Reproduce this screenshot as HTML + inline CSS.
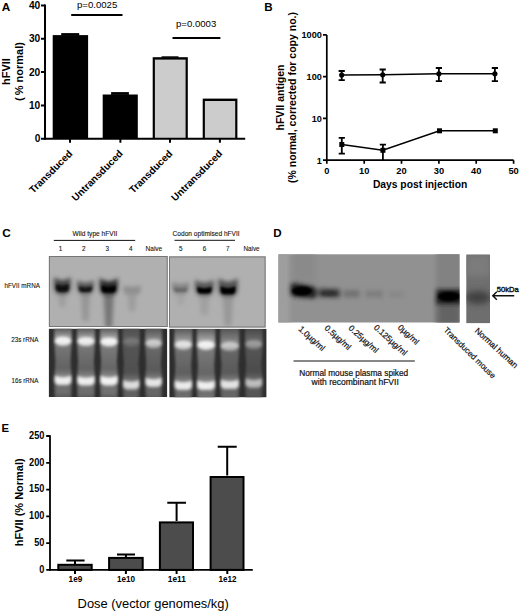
<!DOCTYPE html>
<html><head><meta charset="utf-8">
<style>
html,body{margin:0;padding:0;background:#fff;}
body{width:520px;height:614px;overflow:hidden;}
svg{display:block;}
text{font-family:"Liberation Sans",sans-serif;}
.b{font-weight:bold;}
</style></head>
<body>
<svg width="520" height="614" viewBox="0 0 520 614">
<rect width="520" height="614" fill="#fff"/>

<!-- ============ PANEL A ============ -->
<g id="A">
<text class="b" x="1.7" y="10.6" font-size="11.8">A</text>
<!-- bars -->
<rect x="52.7" y="35.1" width="35.4" height="103.6" fill="#000"/>
<rect x="61.2" y="33.1" width="18" height="2.5" fill="#000"/>
<rect x="102.7" y="94.5" width="35.1" height="44.2" fill="#000"/>
<rect x="111.1" y="92.1" width="17.8" height="2.8" fill="#000"/>
<rect x="152.7" y="57.2" width="35.1" height="81.5" fill="#000"/>
<rect x="154.9" y="59.6" width="30.7" height="79.1" fill="#cccccc"/>
<rect x="161.6" y="56.3" width="16.9" height="1.5" fill="#000"/>
<rect x="202.7" y="98.6" width="34.7" height="40.1" fill="#000"/>
<rect x="204.9" y="101" width="30.3" height="37.7" fill="#cccccc"/>
<!-- axes -->
<g stroke="#000" stroke-width="2" fill="none">
<path d="M45,4.4V139.7"/>
<path d="M44,138.7H245.2"/>
<path d="M41,5.4H45M41,38.7H45M41,72H45M41,105.4H45M41,138.7H45"/>
<path d="M70,138.7V142.8M120.4,138.7V142.8M170,138.7V142.8M219.9,138.7V142.8"/>
<!-- significance -->
<path d="M71.2,15H122.5M172.5,38.1H220.4"/>
</g>
<g class="b" font-size="10.2" text-anchor="end">
<text x="40.3" y="9.1">40</text>
<text x="40.3" y="42.4">30</text>
<text x="40.3" y="75.7">20</text>
<text x="40.3" y="109.1">10</text>
<text x="40.3" y="142.4">0</text>
</g>
<text x="77" y="8.3" font-size="9.6">p=0.0025</text>
<text x="176" y="26.6" font-size="9.6">p=0.0003</text>
<g class="b" font-size="11" text-anchor="middle">
<text transform="translate(10.2,71.6) rotate(-90)">hFVII</text>
<text transform="translate(22.6,71.6) rotate(-90)">(&#8201;% normal)</text>
</g>
<g class="b" font-size="10" text-anchor="end">
<text transform="translate(73,154.3) rotate(-45)">Transduced</text>
<text transform="translate(123.4,154.3) rotate(-45)">Untransduced</text>
<text transform="translate(173,154.3) rotate(-45)">Transduced</text>
<text transform="translate(222.9,154.3) rotate(-45)">Untransduced</text>
</g>
</g>

<!-- ============ PANEL B ============ -->
<g id="B">
<text class="b" x="264.2" y="11" font-size="11.6">B</text>
<g stroke="#000" stroke-width="1.7" fill="none">
<path d="M326.8,34.9V160.2H513.6"/>
<path d="M323,34.9H326.8M323,76.7H326.8M323,118.4H326.8M323,160.2H326.8"/>
<path d="M326.8,160.2V163.8M364.2,160.2V163.8M401.5,160.2V163.8M438.9,160.2V163.8M476.2,160.2V163.8M513.6,160.2V163.8"/>
</g>
<g class="b" font-size="9.1" text-anchor="end">
<text x="321.8" y="38.2">1000</text>
<text x="321.8" y="80">100</text>
<text x="321.8" y="121.7">10</text>
<text x="321.8" y="163.5">1</text>
</g>
<g class="b" font-size="9.3" text-anchor="middle">
<text x="326.8" y="173.9">0</text>
<text x="364.2" y="173.9">10</text>
<text x="401.5" y="173.9">20</text>
<text x="438.9" y="173.9">30</text>
<text x="476.2" y="173.9">40</text>
<text x="513.6" y="173.9">50</text>
</g>
<text class="b" x="420.1" y="187.7" font-size="10.3" text-anchor="middle">Days post injection</text>
<g class="b" font-size="10.5" text-anchor="middle">
<text transform="translate(283.5,97.5) rotate(-90)">hFVII antigen</text>
<text transform="translate(295.7,97.5) rotate(-90)">(% normal, corrected for copy no.)</text>
</g>
<!-- series 1 -->
<g stroke="#000" stroke-width="1.6" fill="none">
<path d="M341.7,75L382.7,74.8L438.9,73.8L494.9,73.8"/>
<path d="M341.8,144.5L382.8,150.3L439.5,130.8L495.3,130.8"/>
</g>
<g stroke="#000" stroke-width="1.8" fill="none">
<path d="M341.7,71V80.2M338.6,71H344.8M338.6,80.2H344.8"/>
<path d="M382.7,69.5V82.5M379.6,69.5H385.8M379.6,82.5H385.8"/>
<path d="M438.9,68V81.2M435.8,68H442M435.8,81.2H442"/>
<path d="M494.9,68V81.2M491.8,68H498M491.8,81.2H498"/>
<path d="M341.8,137.9V153.6M338.7,137.9H344.9M338.7,153.6H344.9"/>
<path d="M382.9,144.6V160M379.8,144.6H386"/>
</g>
<g fill="#000">
<circle cx="341.7" cy="75" r="2.6"/>
<circle cx="382.7" cy="74.8" r="2.6"/>
<circle cx="438.9" cy="73.8" r="2.6"/>
<circle cx="494.9" cy="73.8" r="2.6"/>
<rect x="339.3" y="142" width="5" height="5"/>
<rect x="380.4" y="147.8" width="5" height="5"/>
<rect x="437" y="128.3" width="5" height="5"/>
<rect x="492.8" y="128.3" width="5" height="5"/>
</g>
</g>



<!-- ============ PANEL C ============ -->
<defs>
<filter id="b06" x="-50%" y="-50%" width="200%" height="200%"><feGaussianBlur stdDeviation="0.6"/></filter>
<filter id="b1" x="-50%" y="-50%" width="200%" height="200%"><feGaussianBlur stdDeviation="1"/></filter>
<filter id="b12" x="-50%" y="-50%" width="200%" height="200%"><feGaussianBlur stdDeviation="1.25"/></filter>
<filter id="b15" x="-50%" y="-50%" width="200%" height="200%"><feGaussianBlur stdDeviation="1.5"/></filter>
<filter id="b2" x="-50%" y="-50%" width="200%" height="200%"><feGaussianBlur stdDeviation="2"/></filter>
<filter id="b25" x="-50%" y="-50%" width="200%" height="200%"><feGaussianBlur stdDeviation="2.5"/></filter>
<filter id="b3" x="-50%" y="-50%" width="200%" height="200%"><feGaussianBlur stdDeviation="3"/></filter>
<linearGradient id="gUp" x1="0" y1="0" x2="0" y2="1"><stop offset="0" stop-color="#fff" stop-opacity="0"/><stop offset="1" stop-color="#fff" stop-opacity="1"/></linearGradient>
<linearGradient id="gDn" x1="0" y1="0" x2="0" y2="1"><stop offset="0" stop-color="#fff" stop-opacity="1"/><stop offset="1" stop-color="#fff" stop-opacity="0"/></linearGradient>
<clipPath id="cTL"><rect x="48.9" y="256" width="118.8" height="71"/></clipPath>
<clipPath id="cTR"><rect x="169" y="256.4" width="96.6" height="71.1"/></clipPath>
<clipPath id="cBL"><rect x="48.9" y="328.8" width="118.2" height="68.2"/></clipPath>
<clipPath id="cBR"><rect x="169.4" y="328.9" width="97" height="68.3"/></clipPath>
<clipPath id="cD1"><rect x="278.4" y="254.3" width="181.1" height="68.2"/></clipPath>
<clipPath id="cD2"><rect x="466.3" y="254.6" width="23.7" height="68.5"/></clipPath>
</defs>
<g id="C">
<text class="b" x="2.2" y="237.3" font-size="11.8">C</text>
<g font-size="6.6" fill="#111" stroke="#111" stroke-width="0.1">
<text x="72.6" y="235.6">Wild type hFVII</text>
<text x="172.6" y="235.6">Codon optimised hFVII</text>
<text x="4.5" y="287.6" textLength="35.4" lengthAdjust="spacingAndGlyphs">hFVII mRNA</text>
<text x="11.3" y="342.4" textLength="27.1" lengthAdjust="spacingAndGlyphs">23s rRNA</text>
<text x="11.6" y="382.9" textLength="26.8" lengthAdjust="spacingAndGlyphs">16s rRNA</text>
</g>
<g font-size="6.3" fill="#111" text-anchor="middle" stroke="#111" stroke-width="0.1">
<text x="60.6" y="251">1</text>
<text x="83.8" y="251">2</text>
<text x="107.2" y="251">3</text>
<text x="130.8" y="251">4</text>
<text x="153.9" y="251.1" font-size="7" textLength="16.6" lengthAdjust="spacingAndGlyphs">Naive</text>
<text x="180.7" y="251">5</text>
<text x="204.4" y="251">6</text>
<text x="227.7" y="251">7</text>
<text x="251.5" y="251.1" font-size="7" textLength="16.2" lengthAdjust="spacingAndGlyphs">Naive</text>
</g>
<path d="M53.8,240.4H135.2M174.5,240.3H235" stroke="#111" stroke-width="1"/>

<rect x="48.9" y="256.0" width="118.8" height="71.0" fill="#b0b0b0"/>
<g clip-path="url(#cTL)">
<g filter="url(#b2)">
<path d="M57.8,291.0 L67.0,291.0 L65.3,307.0 L59.5,307.0 Z" fill="#9e9e9e"/>
<path d="M80.7,291.0 L90.3,291.0 L88.5,321.0 L82.5,321.0 Z" fill="#969696"/>
<path d="M103.4,292.0 L114.0,292.0 L112.0,328.0 L105.4,328.0 Z" fill="#767676"/>
<path d="M127.0,291.5 L137.0,291.5 L135.1,311.5 L128.9,311.5 Z" fill="#9e9e9e"/>
</g>
<g filter="url(#b2)">
<path d="M54.3,277.3 Q62.4,283.7 70.5,277.3 L70.5,287.4 Q70.5,293.8 64.0,293.8 L60.8,293.8 Q54.3,293.8 54.3,287.4 Z" fill="#3c3c3c"/>
<path d="M77.2,280.3 Q85.5,285.4 93.8,280.3 L93.8,287.2 Q93.8,293.8 87.2,293.8 L83.8,293.8 Q77.2,293.8 77.2,287.2 Z" fill="#555555"/>
<path d="M99.7,278.3 Q108.7,284.7 117.8,278.3 L117.8,287.6 Q117.8,294.8 110.5,294.8 L106.9,294.8 Q99.7,294.8 99.7,287.6 Z" fill="#282828"/>
<path d="M123.5,285.3 Q132.0,288.4 140.6,285.3 L140.6,289.8 Q140.6,294.3 136.1,294.3 L128.0,294.3 Q123.5,294.3 123.5,289.8 Z" fill="#8e8e8e"/>
</g>
<g filter="url(#b12)">
<path d="M56.3,284.6 Q62.4,287.5 68.5,284.6 L68.5,288.1 Q68.5,291.6 65.0,291.6 L59.8,291.6 Q56.3,291.6 56.3,288.1 Z" fill="#080808"/>
<path d="M79.2,286.3 Q85.5,288.6 91.8,286.3 L91.8,289.1 Q91.8,291.9 89.0,291.9 L82.0,291.9 Q79.2,291.9 79.2,289.1 Z" fill="#141414"/>
<path d="M101.8,285.6 Q108.7,288.5 115.6,285.6 L115.6,289.1 Q115.6,292.6 112.1,292.6 L105.3,292.6 Q101.8,292.6 101.8,289.1 Z" fill="#000000"/>
</g>
</g>
<rect x="49.4" y="256.5" width="117.8" height="70.0" fill="none" stroke="#777" stroke-width="1"/>
<rect x="169.0" y="256.4" width="96.6" height="71.1" fill="#b0b0b0"/>
<g clip-path="url(#cTR)">
<g filter="url(#b2)">
<path d="M175.8,291.0 L185.4,291.0 L183.6,305.0 L177.6,305.0 Z" fill="#a5a5a5"/>
<path d="M199.0,292.8 L209.8,292.8 L207.8,314.8 L201.0,314.8 Z" fill="#a0a0a0"/>
<path d="M222.4,293.8 L233.6,293.8 L231.5,325.8 L224.5,325.8 Z" fill="#989898"/>
</g>
<g filter="url(#b2)">
<path d="M172.3,281.8 Q180.6,286.2 188.9,281.8 L188.9,287.8 Q188.9,293.8 182.9,293.8 L178.3,293.8 Q172.3,293.8 172.3,287.8 Z" fill="#848484"/>
<path d="M195.1,279.8 Q204.4,285.9 213.7,279.8 L213.7,288.2 Q213.7,295.6 206.3,295.6 L202.5,295.6 Q195.1,295.6 195.1,288.2 Z" fill="#555555"/>
<path d="M218.4,278.3 Q228.0,285.5 237.6,278.3 L237.6,289.0 Q237.6,296.6 229.9,296.6 L226.1,296.6 Q218.4,296.6 218.4,289.0 Z" fill="#505050"/>
</g>
<g filter="url(#b12)">
<path d="M174.3,287.2 Q180.6,289.2 186.9,287.2 L186.9,289.6 Q186.9,292.0 184.5,292.0 L176.7,292.0 Q174.3,292.0 174.3,289.6 Z" fill="#696969"/>
<path d="M197.3,286.8 Q204.4,289.6 211.5,286.8 L211.5,290.1 Q211.5,293.4 208.2,293.4 L200.6,293.4 Q197.3,293.4 197.3,290.1 Z" fill="#050505"/>
<path d="M220.7,286.3 Q228.0,289.6 235.3,286.3 L235.3,290.3 Q235.3,294.2 231.4,294.2 L224.6,294.2 Q220.7,294.2 220.7,290.3 Z" fill="#050505"/>
</g>
</g>
<rect x="169.5" y="256.9" width="95.6" height="70.1" fill="none" stroke="#777" stroke-width="1"/>
<rect x="48.9" y="328.8" width="118.2" height="68.2" fill="#2e2e2e"/>
<g clip-path="url(#cBL)">
<g filter="url(#b1)">
<path d="M54.2,326.8 L54.0,342.2 L55.5,360.4 L54.0,382.5 L54.8,400.0 L71.2,400.0 L72.0,382.5 L70.5,360.4 L72.0,342.2 L71.8,326.8 Z" fill="#5c5c5c"/>
<path d="M77.0,326.8 L76.7,342.5 L78.2,360.8 L76.7,383.0 L77.5,400.0 L94.5,400.0 L95.3,383.0 L93.8,360.8 L95.3,342.5 L95.0,326.8 Z" fill="#5c5c5c"/>
<path d="M100.0,326.8 L99.7,343.0 L101.2,360.9 L99.7,382.8 L100.5,400.0 L117.5,400.0 L118.3,382.8 L116.8,360.9 L118.3,343.0 L118.0,326.8 Z" fill="#5f5f5f"/>
<path d="M122.7,326.8 L122.4,343.0 L123.9,363.0 L122.4,387.0 L123.2,400.0 L139.2,400.0 L140.0,387.0 L138.5,363.0 L140.0,343.0 L139.7,326.8 Z" fill="#505050"/>
<path d="M145.1,326.8 L144.8,344.5 L146.3,362.5 L144.8,384.5 L145.6,400.0 L161.6,400.0 L162.4,384.5 L160.9,362.5 L162.4,344.5 L162.1,326.8 Z" fill="#555555"/>
</g>
<g filter="url(#b15)">
<rect x="54.8" y="328.8" width="16.5" height="13.4" fill="url(#gUp)" opacity="0.68"/>
<ellipse cx="63.0" cy="341.2" rx="8.4" ry="4.6" fill="#fff" opacity="0.82"/>
<rect x="54.8" y="368.5" width="16.5" height="14.0" fill="url(#gUp)" opacity="0.47"/>
<path d="M54.6,375.5 Q63.0,379.1 71.3,375.5 L71.3,380.3 Q71.3,385.1 66.5,385.1 L59.5,385.1 Q54.6,385.1 54.6,380.3 Z" fill="#fff" opacity="0.84"/>
<rect x="55.2" y="343.2" width="15.5" height="32.2" fill="url(#gDn)" opacity="0.18"/>
<rect x="56.2" y="384.5" width="13.5" height="10.0" fill="#fff" opacity="0.11"/>
<rect x="77.5" y="328.8" width="17.0" height="13.7" fill="url(#gUp)" opacity="0.66"/>
<ellipse cx="86.0" cy="341.5" rx="8.7" ry="4.6" fill="#fff" opacity="0.79"/>
<rect x="77.5" y="369.0" width="17.0" height="14.0" fill="url(#gUp)" opacity="0.47"/>
<path d="M77.4,376.0 Q86.0,379.6 94.6,376.0 L94.6,380.8 Q94.6,385.6 89.8,385.6 L82.2,385.6 Q77.4,385.6 77.4,380.8 Z" fill="#fff" opacity="0.84"/>
<rect x="78.0" y="343.5" width="16.0" height="32.4" fill="url(#gDn)" opacity="0.18"/>
<rect x="79.0" y="385.0" width="14.0" height="10.0" fill="#fff" opacity="0.11"/>
<rect x="100.5" y="328.8" width="17.0" height="14.2" fill="url(#gUp)" opacity="0.70"/>
<ellipse cx="109.0" cy="342.0" rx="8.7" ry="4.6" fill="#fff" opacity="0.84"/>
<rect x="100.5" y="368.8" width="17.0" height="14.0" fill="url(#gUp)" opacity="0.48"/>
<path d="M100.4,375.8 Q109.0,379.4 117.6,375.8 L117.6,380.6 Q117.6,385.4 112.8,385.4 L105.2,385.4 Q100.4,385.4 100.4,380.6 Z" fill="#fff" opacity="0.87"/>
<rect x="101.0" y="344.0" width="16.0" height="31.8" fill="url(#gDn)" opacity="0.19"/>
<rect x="102.0" y="384.8" width="14.0" height="10.0" fill="#fff" opacity="0.12"/>
<rect x="123.2" y="328.8" width="16.0" height="14.2" fill="url(#gUp)" opacity="0.12"/>
<ellipse cx="131.2" cy="342.0" rx="8.2" ry="4.6" fill="#fff" opacity="0.14"/>
<rect x="123.2" y="373.0" width="16.0" height="14.0" fill="url(#gUp)" opacity="0.40"/>
<path d="M123.1,380.0 Q131.2,383.6 139.3,380.0 L139.3,384.8 Q139.3,389.6 134.5,389.6 L127.9,389.6 Q123.1,389.6 123.1,384.8 Z" fill="#fff" opacity="0.72"/>
<rect x="123.7" y="344.0" width="15.0" height="35.2" fill="url(#gDn)" opacity="0.03"/>
<rect x="124.7" y="389.0" width="13.0" height="10.0" fill="#fff" opacity="0.10"/>
<rect x="145.6" y="328.8" width="16.0" height="15.7" fill="url(#gUp)" opacity="0.44"/>
<ellipse cx="153.6" cy="343.5" rx="8.2" ry="4.6" fill="#fff" opacity="0.53"/>
<rect x="145.6" y="370.5" width="16.0" height="14.0" fill="url(#gUp)" opacity="0.43"/>
<path d="M145.5,377.5 Q153.6,381.1 161.7,377.5 L161.7,382.3 Q161.7,387.1 156.9,387.1 L150.3,387.1 Q145.5,387.1 145.5,382.3 Z" fill="#fff" opacity="0.78"/>
<rect x="146.1" y="345.5" width="15.0" height="32.0" fill="url(#gDn)" opacity="0.12"/>
<rect x="147.1" y="386.5" width="13.0" height="10.0" fill="#fff" opacity="0.10"/>
</g>
</g>
<rect x="169.4" y="328.9" width="97.0" height="68.3" fill="#2e2e2e"/>
<g clip-path="url(#cBR)">
<g filter="url(#b1)">
<path d="M174.3,326.9 L174.0,346.0 L175.5,364.8 L174.0,387.5 L174.8,400.2 L191.8,400.2 L192.6,387.5 L191.1,364.8 L192.6,346.0 L192.3,326.9 Z" fill="#5a5a5a"/>
<path d="M196.8,326.9 L196.5,346.3 L198.0,364.9 L196.5,387.5 L197.3,400.2 L214.8,400.2 L215.7,387.5 L214.2,364.9 L215.7,346.3 L215.3,326.9 Z" fill="#5e5e5e"/>
<path d="M220.3,326.9 L220.0,347.2 L221.5,364.9 L220.0,386.5 L220.8,400.2 L238.8,400.2 L239.6,386.5 L238.1,364.9 L239.6,347.2 L239.3,326.9 Z" fill="#555555"/>
<path d="M245.1,326.9 L244.8,345.5 L246.2,363.4 L244.8,385.3 L245.6,400.2 L262.1,400.2 L262.9,385.3 L261.4,363.4 L262.9,345.5 L262.6,326.9 Z" fill="#484848"/>
</g>
<g filter="url(#b15)">
<rect x="174.8" y="328.9" width="17.0" height="17.1" fill="url(#gUp)" opacity="0.57"/>
<ellipse cx="183.3" cy="345.0" rx="8.7" ry="4.6" fill="#fff" opacity="0.68"/>
<rect x="174.8" y="373.5" width="17.0" height="14.0" fill="url(#gUp)" opacity="0.45"/>
<path d="M174.7,380.5 Q183.3,384.1 191.9,380.5 L191.9,385.3 Q191.9,390.1 187.1,390.1 L179.5,390.1 Q174.7,390.1 174.7,385.3 Z" fill="#fff" opacity="0.82"/>
<rect x="175.3" y="347.0" width="16.0" height="33.2" fill="url(#gDn)" opacity="0.15"/>
<rect x="176.3" y="389.5" width="14.0" height="10.0" fill="#fff" opacity="0.11"/>
<rect x="197.3" y="328.9" width="17.5" height="17.4" fill="url(#gUp)" opacity="0.68"/>
<ellipse cx="206.1" cy="345.3" rx="8.9" ry="4.6" fill="#fff" opacity="0.82"/>
<rect x="197.3" y="373.5" width="17.5" height="14.0" fill="url(#gUp)" opacity="0.47"/>
<path d="M197.2,380.5 Q206.1,384.1 214.9,380.5 L214.9,385.3 Q214.9,390.1 210.1,390.1 L202.1,390.1 Q197.2,390.1 197.2,385.3 Z" fill="#fff" opacity="0.84"/>
<rect x="197.8" y="347.3" width="16.5" height="33.0" fill="url(#gDn)" opacity="0.18"/>
<rect x="198.8" y="389.5" width="14.5" height="10.0" fill="#fff" opacity="0.11"/>
<rect x="220.8" y="328.9" width="18.0" height="18.3" fill="url(#gUp)" opacity="0.42"/>
<ellipse cx="229.8" cy="346.2" rx="9.2" ry="4.6" fill="#fff" opacity="0.50"/>
<rect x="220.8" y="372.5" width="18.0" height="14.0" fill="url(#gUp)" opacity="0.42"/>
<path d="M220.7,379.5 Q229.8,383.1 238.9,379.5 L238.9,384.3 Q238.9,389.1 234.1,389.1 L225.5,389.1 Q220.7,389.1 220.7,384.3 Z" fill="#fff" opacity="0.76"/>
<rect x="221.3" y="348.2" width="17.0" height="31.4" fill="url(#gDn)" opacity="0.11"/>
<rect x="222.3" y="388.5" width="15.0" height="10.0" fill="#fff" opacity="0.10"/>
<rect x="245.6" y="328.9" width="16.5" height="16.6" fill="url(#gUp)" opacity="0.26"/>
<ellipse cx="253.8" cy="344.5" rx="8.4" ry="4.6" fill="#fff" opacity="0.31"/>
<rect x="245.6" y="371.3" width="16.5" height="14.0" fill="url(#gUp)" opacity="0.30"/>
<path d="M245.5,378.3 Q253.8,381.9 262.2,378.3 L262.2,383.1 Q262.2,387.9 257.4,387.9 L250.3,387.9 Q245.5,387.9 245.5,383.1 Z" fill="#fff" opacity="0.53"/>
<rect x="246.1" y="346.5" width="15.5" height="31.8" fill="url(#gDn)" opacity="0.07"/>
<rect x="247.1" y="387.3" width="13.5" height="10.0" fill="#fff" opacity="0.07"/>
</g>
</g>
</g>

<!-- ============ PANEL D ============ -->
<g id="D">
<text class="b" x="273.2" y="237.2" font-size="11.6">D</text>
<rect x="278.4" y="254.3" width="181.1" height="68.2" fill="#919191"/>
<g clip-path="url(#cD1)">
 <rect x="276" y="252" width="14" height="74" fill="#9e9e9e" filter="url(#b2)"/>
 <rect x="292" y="252" width="24" height="31" fill="#8a8a8a" filter="url(#b3)"/>
 <rect x="436" y="250" width="26" height="76" fill="#828282" filter="url(#b2)"/>
 <rect x="437" y="296" width="24" height="30" fill="#646464" filter="url(#b3)"/>
 <g filter="url(#b2)">
  <path d="M290.5,286.5 Q290.5,282.5 295,283 L312,286 Q316.5,287 316.5,291 L316.5,295 Q316.5,299 312,298.5 L295,297 Q290.5,296.5 290.5,293 Z" fill="#242424"/>
  <path d="M317.5,290.5 Q317.5,288 321,288 L337,288.5 Q340.5,288.5 340.5,291.5 L340.5,295 Q340.5,298 337,298 L321,297.5 Q317.5,297.5 317.5,295 Z" fill="#4c4c4c"/>
  <path d="M343.5,290 L359.5,290 L359.5,297.5 L343.5,297.5 Z" fill="#727272"/>
  <path d="M365.5,290.5 L383,290.5 L383,297.5 L365.5,297.5 Z" fill="#7e7e7e"/>
  <path d="M389,291 L404,291 L404,297.5 L389,297.5 Z" fill="#888"/>
  <path d="M436.5,289.5 L462,289.5 L462,304 L436.5,304 Z" fill="#1c1c1c"/>
 </g>
 <g filter="url(#b12)">
  <ellipse cx="302" cy="291" rx="10" ry="4.6" fill="#000"/>
  <ellipse cx="329" cy="293.2" rx="8.5" ry="2.8" fill="#333"/>
  <ellipse cx="449" cy="296.5" rx="11" ry="4.8" fill="#000"/>
 </g>
</g>
<rect x="466.3" y="254.6" width="23.7" height="68.5" fill="#6e6e6e"/>
<g clip-path="url(#cD2)">
 <rect x="466.3" y="254.6" width="23.7" height="22" fill="#7c7c7c" filter="url(#b3)"/>
 <ellipse cx="478" cy="297.5" rx="13" ry="6.5" fill="#404040" filter="url(#b3)"/>
</g>
<text x="496.7" y="292" font-size="7.6" fill="#111" stroke="#111" stroke-width="0.4">50kDa</text>
<path d="M493.2,295.8H514.2M496.8,291.8L492.8,295.8L496.8,299.8" stroke="#111" stroke-width="1.5" fill="none"/>
<g font-size="8.4" fill="#111" stroke="#111" stroke-width="0.2">
<text transform="translate(297.9,329.8) rotate(42)">1.0µg/ml</text>
<text transform="translate(324,328.8) rotate(42)">0.5µg/ml</text>
<text transform="translate(347.9,328.8) rotate(42)">0.25µg/ml</text>
<text transform="translate(373.2,328.2) rotate(42)">0.125µg/ml</text>
<text transform="translate(397.2,328.2) rotate(42)">0µg/ml</text>
<text transform="translate(443.2,330.5) rotate(44.5)" font-size="8.1">Transduced mouse</text>
<text transform="translate(474.2,331.5) rotate(42.5)">Normal human</text>
</g>
<path d="M293.5,361H414.8" stroke="#111" stroke-width="1.2"/>
<g font-size="8.2" fill="#111" text-anchor="middle" stroke="#111" stroke-width="0.2">
<text x="353.7" y="375.8" textLength="109" lengthAdjust="spacingAndGlyphs">Normal mouse plasma spiked</text>
<text x="355.2" y="385.2" textLength="87.2" lengthAdjust="spacingAndGlyphs">with recombinant hFVII</text>
</g>
</g>

<!-- ============ PANEL E ============ -->
<g id="E">
<text class="b" x="1.6" y="432" font-size="11.3">E</text>
<rect x="58.3" y="564.8" width="33.4" height="5.1" fill="#4c4c4c" stroke="#000" stroke-width="2"/>
<rect x="109.1" y="557.9" width="33.6" height="12" fill="#4c4c4c" stroke="#000" stroke-width="2"/>
<rect x="159.9" y="522.4" width="33.1" height="47.5" fill="#4c4c4c" stroke="#000" stroke-width="2"/>
<rect x="210.6" y="477" width="32.9" height="92.9" fill="#4c4c4c" stroke="#000" stroke-width="2"/>
<g stroke="#000" stroke-width="2" fill="none">
<path d="M75,560.4V564M66.3,560.4H84.6"/>
<path d="M125.9,554.6V557M117,554.6H135"/>
<path d="M176.6,502.8V521M167.3,502.8H186"/>
<path d="M227.2,446.8V475.5M217.7,446.8H236.7"/>
<path d="M50,435.2V570.7" stroke-width="1.8"/>
<path d="M49.1,569.9H252.8" stroke-width="1.8"/>
<path d="M46.2,436H50M46.2,462.8H50M46.2,489.6H50M46.2,516.3H50M46.2,543.1H50M46.2,569.9H50" stroke-width="1.8"/>
<path d="M75,569.9V574M125.9,569.9V574M176.6,569.9V574M227.3,569.9V574"/>
</g>
<g class="b" font-size="10.6" text-anchor="end">
<text x="44.4" y="438.8" textLength="15.3" lengthAdjust="spacingAndGlyphs">250</text>
<text x="44.4" y="465.6" textLength="15.3" lengthAdjust="spacingAndGlyphs">200</text>
<text x="44.4" y="492.4" textLength="15.3" lengthAdjust="spacingAndGlyphs">150</text>
<text x="44.4" y="519.1" textLength="15.3" lengthAdjust="spacingAndGlyphs">100</text>
<text x="44.4" y="545.9" textLength="10.2" lengthAdjust="spacingAndGlyphs">50</text>
<text x="44.4" y="572.7" textLength="5.1" lengthAdjust="spacingAndGlyphs">0</text>
</g>
<g class="b" font-size="9.6" text-anchor="middle">
<text x="75.4" y="582.3" textLength="13.6" lengthAdjust="spacingAndGlyphs">1e9</text>
<text x="126.1" y="582.3" textLength="18" lengthAdjust="spacingAndGlyphs">1e10</text>
<text x="176.8" y="582.3" textLength="18" lengthAdjust="spacingAndGlyphs">1e11</text>
<text x="227.4" y="582.3" textLength="18" lengthAdjust="spacingAndGlyphs">1e12</text>
</g>
<text class="b" transform="translate(22.7,502.3) rotate(-90)" font-size="11" text-anchor="middle">hFVII (% Normal)</text>
<text x="77.6" y="608.2" font-size="12.9">Dose (vector genomes/kg)</text>
</g>

</svg>
</body></html>
